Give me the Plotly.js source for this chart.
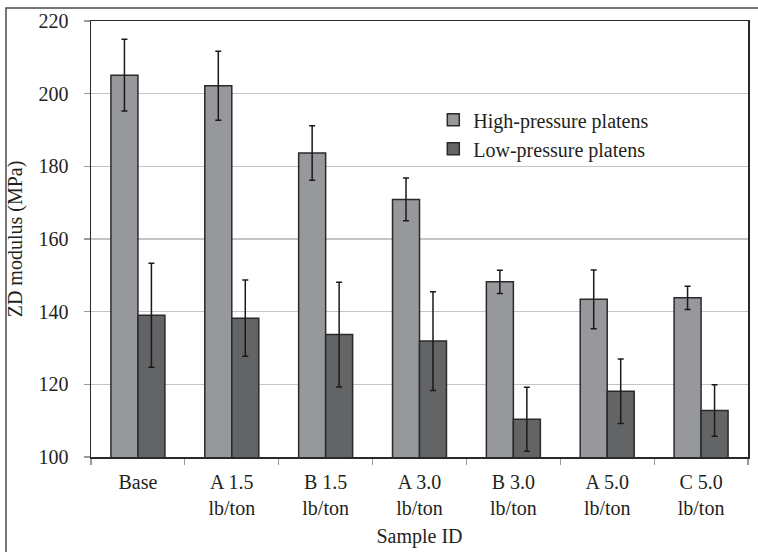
<!DOCTYPE html>
<html>
<head>
<meta charset="utf-8">
<script src="https://cdn.plot.ly/plotly-3.0.1.min.js"></script>
<style>html,body{margin:0;padding:0;background:#fff;}#chart{width:758px;height:552px;}</style>
</head>
<body>
<div id="chart"></div>
<script>
const categories = ["Base", "A 1.5<br>lb/ton", "B 1.5<br>lb/ton", "A 3.0<br>lb/ton", "B 3.0<br>lb/ton", "A 5.0<br>lb/ton", "C 5.0<br>lb/ton"];
const highValues = [205.1, 202.2, 183.7, 170.9, 148.2, 143.4, 143.8];
const highErrors = [9.9, 9.5, 7.5, 5.9, 3.2, 8.1, 3.2];
const lowValues = [139.0, 138.2, 133.7, 131.9, 110.4, 118.1, 112.8];
const lowErrors = [14.3, 10.5, 14.4, 13.6, 8.8, 8.9, 7.1];
const seriesNames = ["High-pressure platens", "Low-pressure platens"];
const yTicks = [100, 120, 140, 160, 180, 200, 220];

const FONT = "Liberation Serif";
const TXT = {family: FONT, size: 20, color: '#231f20'};
const errStyle = (arr) => ({type: 'data', array: arr, visible: true, color: '#1a1a1a', thickness: 1.5, width: 3});

const traces = [
  {
    type: 'bar', name: seriesNames[0], x: categories, y: highValues,
    marker: {color: '#97989c', line: {color: '#2a2a2a', width: 1.5}},
    error_y: errStyle(highErrors)
  },
  {
    type: 'bar', name: seriesNames[1], x: categories, y: lowValues,
    marker: {color: '#636466', line: {color: '#2a2a2a', width: 1.5}},
    error_y: errStyle(lowErrors)
  }
];

const layout = {
  width: 758, height: 552,
  margin: {l: 91, r: 10, t: 21, b: 95},
  paper_bgcolor: '#ffffff', plot_bgcolor: '#ffffff',
  font: TXT,
  barmode: 'group', bargap: 0.425, bargroupgap: 0,
  showlegend: true,
  legend: {x: 0.521, y: 0.818, xanchor: 'left', yanchor: 'top', bgcolor: 'rgba(0,0,0,0)',
           font: TXT, tracegroupgap: 8},
  xaxis: {
    type: 'category',
    showline: true, mirror: true, linecolor: '#2a2a2a', linewidth: 1.5,
    ticks: 'outside', tickson: 'boundaries', ticklen: 6, tickcolor: '#9a9a9a', tickwidth: 1.2,
    showgrid: false,
    ticklabelstandoff: 6,
    tickfont: TXT,
    title: {text: 'Sample ID', font: TXT, standoff: 11}
  },
  yaxis: {
    range: [100, 220], tickvals: yTicks, ticktext: yTicks.map(String),
    showline: true, mirror: true, linecolor: '#2a2a2a', linewidth: 1.5,
    ticks: 'outside', ticklen: 6, tickcolor: '#9a9a9a', tickwidth: 1.2,
    showgrid: true, gridcolor: '#c4c4c4', gridwidth: 1.5,
    zeroline: false,
    ticklabelstandoff: 11,
    tickfont: TXT,
    title: {text: 'ZD modulus (MPa)', font: TXT, standoff: 10}
  },
  shapes: [
    {type: 'rect', xref: 'paper', yref: 'paper', x0: -0.1294, x1: 1.08, y0: -0.25, y1: 1.0298,
     line: {color: '#4a4a4a', width: 1.5}, fillcolor: 'rgba(0,0,0,0)', layer: 'below'}
  ]
};

Plotly.newPlot('chart', traces, layout, {staticPlot: true, displayModeBar: false});
</script>
</body>
</html>
